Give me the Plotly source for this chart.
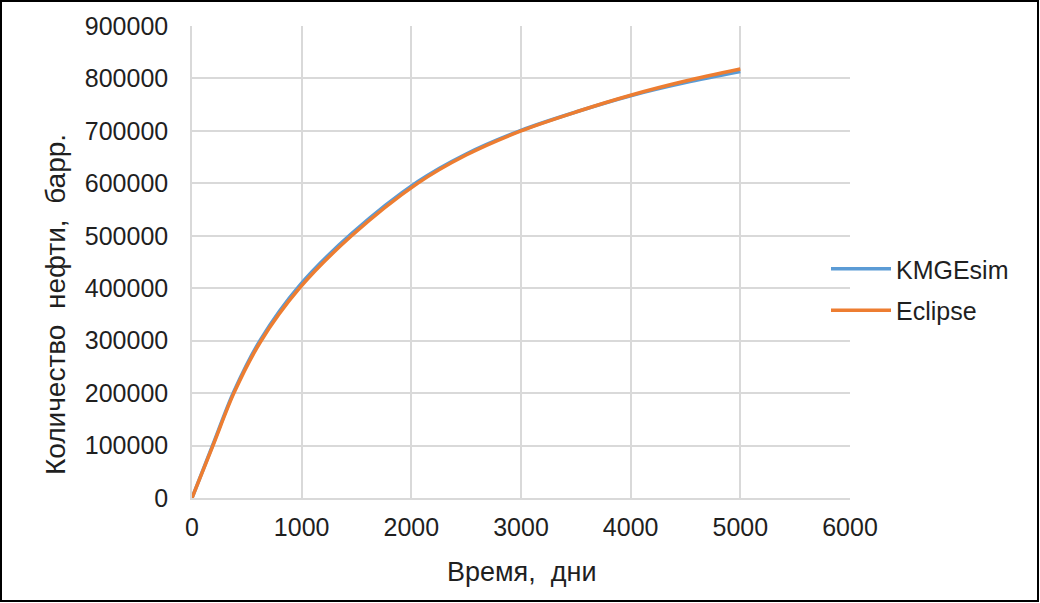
import plotly.graph_objects as go

days_k = [0, 191, 382, 625, 980, 1455, 2057, 2500, 3000, 3500, 4000, 4500, 5000]
kmgesim = [0, 102000, 203000, 302000, 405000, 504000, 603000, 656000, 701000, 736000, 767000, 792000, 813000]
days_e = [0, 191, 382, 625, 980, 1455, 2057, 2500, 3000, 3500, 4000, 4500, 5000]
eclipse = [0, 100000, 200000, 298000, 400000, 500000, 600000, 654000, 700000, 736000, 768000, 795000, 818000]

x_ticks = [0, 1000, 2000, 3000, 4000, 5000, 6000]
y_ticks = [0, 100000, 200000, 300000, 400000, 500000, 600000, 700000, 800000, 900000]

W, H = 1040, 603
L, R, T, B = 192, 190, 26, 105
pw, ph = W - L - R, H - T - B


def px_x(p):
    return (p - L) / pw


def px_y(p):
    return 1 - (p - T) / ph


fig = go.Figure()
fig.add_trace(go.Scatter(x=days_k, y=kmgesim, mode="lines", name="KMGEsim", legendgroup="a",
                         line=dict(color="#5b9bd5", width=3.5, shape="spline", smoothing=0.9)))
fig.add_trace(go.Scatter(x=days_e, y=eclipse, mode="lines", name="Eclipse", legendgroup="b",
                         line=dict(color="#ed7d31", width=3.5, shape="spline", smoothing=0.9)))

font = "Liberation Sans, Arial, sans-serif"
txt = "#1f1f1f"
fig.update_layout(
    width=W, height=H,
    margin=dict(l=L, r=R, t=T, b=B, autoexpand=False),
    paper_bgcolor="white", plot_bgcolor="white",
    font=dict(family=font, size=25, color=txt),
    showlegend=True,
    legend=dict(x=px_x(826), y=px_y(246), xanchor="left", yanchor="top",
                bgcolor="rgba(255,255,255,0)", font=dict(size=25, color=txt),
                tracegroupgap=6, itemwidth=60),
    xaxis=dict(range=[0, 6000], tickvals=x_ticks, ticktext=[str(v) for v in x_ticks],
               showgrid=True, gridcolor="#d9d9d9", gridwidth=1.5, zeroline=False,
               showline=True, linecolor="#d9d9d9", linewidth=1.5,
               ticks="", ticklabelstandoff=6, tickfont=dict(size=25, color=txt)),
    yaxis=dict(range=[0, 900000], tickvals=y_ticks, ticktext=[str(v) for v in y_ticks],
               showgrid=True, gridcolor="#d9d9d9", gridwidth=1.5, zeroline=False,
               showline=True, linecolor="#d9d9d9", linewidth=1.5,
               ticks="", ticklabelstandoff=17, tickfont=dict(size=25, color=txt)),
)

fig.add_annotation(text="Время,  дни", xref="paper", yref="paper",
                   x=px_x(521), y=px_y(572), xanchor="center", yanchor="middle",
                   showarrow=False, font=dict(size=27, color=txt))
fig.add_annotation(text="Количество  нефти,  барр.", xref="paper", yref="paper",
                   x=px_x(55), y=px_y(305), xanchor="center", yanchor="middle", textangle=-90,
                   showarrow=False, font=dict(size=28, color=txt))

fig.add_shape(type="rect", xref="paper", yref="paper",
              x0=px_x(1), x1=px_x(1038), y0=px_y(601), y1=px_y(1),
              line=dict(color="black", width=2), fillcolor="rgba(0,0,0,0)", layer="above")

fig.write_html("out.html", config={"displayModeBar": False},
               post_script="document.body.style.margin='0';document.body.style.overflow='hidden';")
